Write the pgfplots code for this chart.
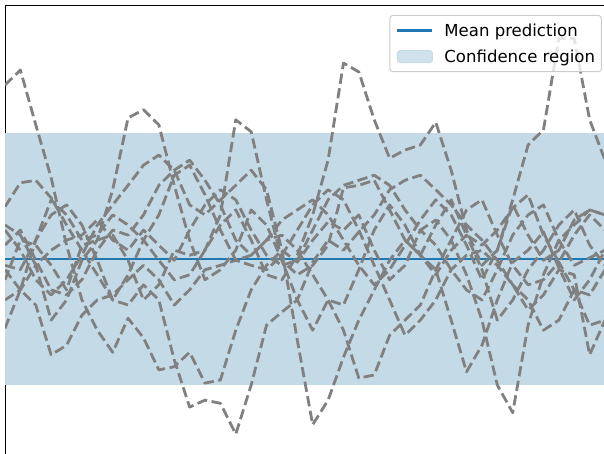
\documentclass[border=0pt]{standalone}
\usepackage{fontspec}
\setmainfont{DejaVu Sans}
\usepackage{pgfplots}
\usepackage{pgfplotstable}
\pgfplotsset{compat=1.18}

\definecolor{tabblue}{HTML}{1F77B4}
\definecolor{bandblue}{RGB}{196,219,231}
\definecolor{samplegray}{RGB}{128,128,128}
\definecolor{legendedge}{RGB}{204,204,204}

% Ten prior samples on a grid of 40 points over [0, 10]
\pgfplotstableread{
x      s1    s2    s3    s4    s5    s6    s7    s8    s9    s10
0.000  2.76 -0.65 -0.33 -0.10 -1.10  0.83  0.46 -0.17  0.22  0.54
0.256  3.00 -0.49  0.30 -0.17 -0.49  1.21  0.14 -0.49  0.46  0.38
0.513  2.13 -0.10  0.22  0.30  0.30  1.25 -0.33 -0.73 -0.02 -0.10
0.769  1.29 -0.97 -0.10  0.94  0.70  0.97 -0.57 -1.52 -0.49  0.14
1.026  0.22 -0.65 -0.49  0.70  0.86  0.54 -0.33 -1.37 -0.57  0.30
1.282 -0.65 -0.02  0.22  0.30  0.54  0.14  0.06 -0.89 -0.33  0.38
1.538 -1.13  0.30  0.30  0.38 -0.02 -0.25  0.54 -0.65  0.14  0.62
1.795 -1.48  1.10  0.38  0.70 -0.65 -0.65  0.86 -0.57  0.46  0.30
2.051 -0.94  2.24 -0.02  0.54 -0.25 -0.73  1.17 -0.33  0.38  0.14
2.308 -1.25  2.37 -0.65  0.30  0.30 -0.41  1.49 -0.10  0.70  0.46
2.564 -1.76  2.13 -0.41 -0.02  0.70 -0.65  1.65 -0.33  1.17  0.22
2.821 -1.71  1.17  0.14 -0.33  1.33 -1.60  1.41 -0.73  1.41 -0.02
3.077 -1.48  0.30  0.06 -0.25  1.49 -2.35  0.86 -0.49  1.57  0.46
3.333 -1.97 -0.33  0.14  0.14  1.02 -2.24  0.70 -0.17  1.25  0.86
3.590 -1.92 -0.17  0.70  0.54  0.46 -2.29  0.94 -0.10  0.86  1.10
3.846 -1.13  0.14  2.21  0.78 -0.02 -2.78  1.17 -0.02  0.30  0.94
4.103 -0.49  0.78  2.02  0.30  0.06 -2.00  1.41 -0.10  0.06  0.46
4.359 -0.10  0.54  0.94 -0.25  0.30 -1.05  1.10 -0.17  0.30  0.06
4.615  0.14 -0.02 -0.02 -0.33  0.62 -0.84  0.14  0.06  0.38 -0.10
4.872 -0.05 -0.65 -0.25  0.06  0.78 -0.65 -1.29  0.46  0.14 -0.02
5.128  0.30 -1.13 -0.10  0.70  0.94 -0.05 -2.63  0.86 -0.25  0.46
5.385  0.59 -0.65  0.22  1.57  0.70  0.30 -2.24  1.10 -0.65  0.94
5.641  0.46 -0.73  1.13  3.11  0.30  0.14 -1.56  0.94 -1.13  1.17
5.897  0.70 -0.17  1.17  2.97 -0.10  0.43 -0.97  0.46 -1.89  1.25
6.154  0.14  0.46  1.25  2.21 -0.41  0.70 -0.49 -0.10 -1.84  1.33
6.410 -0.33  0.86  0.78  1.60 -0.17  1.10 -0.02 -0.65 -1.21  1.17
6.667 -0.10  0.54  0.30  1.73  0.22  1.25  0.30 -1.21 -0.97  0.78
6.923  0.46  0.06  0.06  1.81  0.62  1.33  0.06 -0.97 -0.73  0.46
7.179  0.22 -0.17  0.54  2.17  0.94  1.10 -0.25 -0.65 -0.17  0.62
7.436 -0.17 -0.97  0.94  1.41  0.70  0.86  0.14 -0.17  0.30  0.30
7.692 -0.49 -1.79  0.38  0.46  0.22  0.54  0.38  0.06  0.78 -0.25
7.949 -0.65 -1.37  0.22 -0.10 -0.33  0.30 -0.17  0.14  0.94 -0.97
8.205 -0.17 -0.65  0.46  0.14  0.14 -0.02 -0.97 -0.10  0.38 -2.00
8.462  0.38 -0.05  0.81  0.86  0.94 -0.41 -0.65 -0.41 -0.10 -2.44
8.718  0.70  0.14  1.02  0.38  1.81 -0.65 -0.17 -0.81 -0.41 -1.05
8.974  0.86  0.43  0.38 -0.02  2.05 -1.13  0.14 -0.57 -0.33 -0.25
9.231  0.30 -0.14 -0.05  0.14  3.50 -0.97  0.54 -0.17 -0.05  0.30
9.487 -0.10 -0.65  0.38  0.62  3.50 -0.49  0.78 -0.25 -0.49  0.54
9.744  0.02 -0.33  0.70  0.78  2.21 -0.57  0.22 -1.52 -1.05  0.78
10.000 0.14  0.14  0.46  0.70  1.57 -0.17 -0.10 -0.97 -0.97  0.70
}\samples

\begin{document}
\begin{tikzpicture}
\useasboundingbox (0,0) rectangle (604bp,-454bp);
\clip (0,0) rectangle (604bp,-454bp);
\begin{axis}[
  at={(5bp,-5bp)}, anchor=north west,
  x=60bp, y=63bp,
  xmin=0, xmax=10.3, ymin=-3.5, ymax=4.032,
  xtick=\empty, ytick=\empty,
  axis line style={line width=1bp, black},
  clip=true,
  sample/.style={samplegray, line width=2.8bp, line join=round,
    dash pattern=on 10.3bp off 4.5bp, forget plot},
  legend cell align=left,
  legend style={
    at={(0.966,0.979)}, anchor=north east,
    draw=legendedge, line width=1bp, rounded corners=3bp,
    fill=white, fill opacity=0.8, text opacity=1,
    inner xsep=6.5bp, inner ysep=8bp,
    row sep=12bp, column sep=11bp,
    nodes={inner sep=0bp},
    font=\fontsize{16.6}{19.9}\selectfont,
  },
]
% confidence band, two standard deviations around the mean
\addplot[fill=bandblue, draw=none, forget plot]
  coordinates {(0,-2) (10,-2) (10,2) (0,2)} -- cycle;

\addplot[tabblue, line width=2.1bp,
  legend image code/.code={\draw[tabblue, line width=2.1bp] (0bp,0bp) -- (35bp,0bp);}]
  coordinates {(0,0) (10,0)};
\addlegendentry{Mean prediction}
\addlegendimage{legend image code/.code={\fill[bandblue] (0bp,-6bp) rectangle (35bp,6bp);}}
\addlegendentry{Confidence region}

\addplot[sample] table[x=x, y=s1] {\samples};
\addplot[sample] table[x=x, y=s2] {\samples};
\addplot[sample] table[x=x, y=s3] {\samples};
\addplot[sample] table[x=x, y=s4] {\samples};
\addplot[sample] table[x=x, y=s5] {\samples};
\addplot[sample] table[x=x, y=s6] {\samples};
\addplot[sample] table[x=x, y=s7] {\samples};
\addplot[sample] table[x=x, y=s8] {\samples};
\addplot[sample] table[x=x, y=s9] {\samples};
\addplot[sample] table[x=x, y=s10] {\samples};
\end{axis}
\end{tikzpicture}
\end{document}
